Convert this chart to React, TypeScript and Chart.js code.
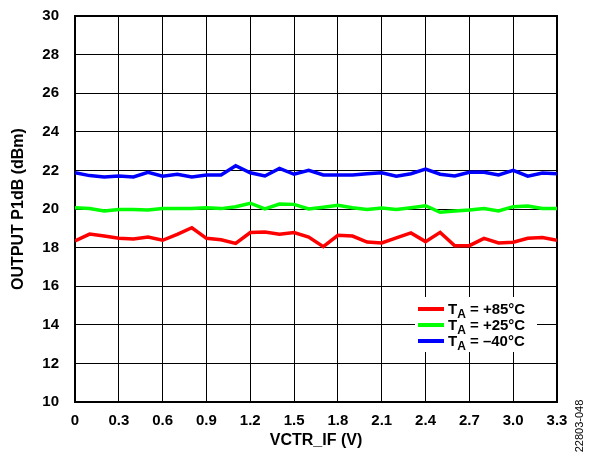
import { useEffect, useRef } from 'react';
import { Chart, registerables } from 'chart.js';

Chart.register(...registerables);

const vctrIf = [0, 0.1, 0.2, 0.3, 0.4, 0.5, 0.6, 0.7, 0.8, 0.9, 1.0, 1.1, 1.2, 1.3, 1.4, 1.5, 1.6, 1.7, 1.8, 1.9, 2.0, 2.1, 2.2, 2.3, 2.4, 2.5, 2.6, 2.7, 2.8, 2.9, 3.0, 3.1, 3.2, 3.3];
const p1dbPlus85 = [18.34, 18.70, 18.60, 18.48, 18.45, 18.55, 18.38, 18.69, 19.03, 18.48, 18.41, 18.22, 18.78, 18.81, 18.69, 18.78, 18.55, 18.05, 18.64, 18.60, 18.29, 18.24, 18.50, 18.76, 18.31, 18.79, 18.10, 18.10, 18.48, 18.24, 18.28, 18.48, 18.52, 18.38];
const p1dbPlus25 = [20.07, 20.03, 19.90, 19.97, 19.98, 19.95, 20.03, 20.03, 20.02, 20.07, 20.02, 20.12, 20.30, 20.00, 20.26, 20.24, 20.00, 20.09, 20.19, 20.07, 19.98, 20.05, 19.98, 20.07, 20.17, 19.83, 19.90, 19.95, 20.03, 19.90, 20.12, 20.15, 20.03, 20.03];
const p1dbMinus40 = [21.88, 21.73, 21.66, 21.71, 21.66, 21.90, 21.70, 21.80, 21.66, 21.76, 21.76, 22.24, 21.88, 21.71, 22.10, 21.80, 22.00, 21.76, 21.76, 21.76, 21.83, 21.88, 21.70, 21.83, 22.07, 21.80, 21.71, 21.90, 21.90, 21.76, 22.00, 21.70, 21.86, 21.83];

const seriesTemps = ['+85°C', '+25°C', '\u201340°C'];
const seriesColors = ['#ff0000', '#00ff00', '#0000ff'];
const xTitle = 'VCTR_IF (V)';
const yTitle = 'OUTPUT P1dB (dBm)';
const figureId = '22803-048';

const FONT = '"Liberation Sans", Arial, Helvetica, sans-serif';

const overlayPlugin = {
  id: 'overlay',
  beforeDatasetsDraw(chart: any) {
    const { ctx, chartArea } = chart;
    ctx.save();
    ctx.strokeStyle = '#000';
    ctx.lineWidth = 2;
    ctx.strokeRect(chartArea.left, chartArea.top, chartArea.right - chartArea.left, chartArea.bottom - chartArea.top);
    ctx.restore();
  },
  afterDatasetsDraw(chart: any) {
    const { ctx, chartArea } = chart;
    ctx.save();
    const bx = chartArea.right - 142;
    const by = chartArea.bottom - 105;
    ctx.fillStyle = '#fff';
    ctx.fillRect(bx, by, 122, 55);
    const rowY = [by + 12, by + 28, by + 44];
    seriesTemps.forEach((t, i) => {
      const y = rowY[i];
      ctx.strokeStyle = seriesColors[i];
      ctx.lineWidth = 4;
      ctx.beginPath();
      ctx.moveTo(bx + 3, y);
      ctx.lineTo(bx + 29, y);
      ctx.stroke();
      ctx.fillStyle = '#000';
      ctx.textBaseline = 'alphabetic';
      ctx.textAlign = 'left';
      let x = bx + 33;
      ctx.font = `bold 15px ${FONT}`;
      ctx.fillText('T', x, y + 5);
      x += ctx.measureText('T').width;
      ctx.font = `bold 12px ${FONT}`;
      ctx.fillText('A', x, y + 9);
      x += ctx.measureText('A').width;
      ctx.font = `bold 15px ${FONT}`;
      ctx.fillText(' = ' + t, x, y + 5);
    });
    ctx.restore();
  },
  afterDraw(chart: any) {
    const { ctx } = chart;
    ctx.save();
    ctx.translate(chart.width - 9, chart.height - 29);
    ctx.rotate(-Math.PI / 2);
    ctx.font = `11px ${FONT}`;
    ctx.fillStyle = '#000';
    ctx.textAlign = 'center';
    ctx.textBaseline = 'middle';
    ctx.fillText(figureId, 0, 0);
    ctx.restore();
  },
};

export default function App() {
  const ref = useRef<HTMLCanvasElement>(null);
  useEffect(() => {
    if (!ref.current) return;
    const mk = (vals: number[]) => vctrIf.map((x, i) => ({ x, y: vals[i] }));
    const chart = new Chart(ref.current, {
      type: 'line',
      data: {
        datasets: [p1dbPlus85, p1dbPlus25, p1dbMinus40].map((vals, i) => ({
          label: 'TA = ' + seriesTemps[i],
          data: mk(vals),
          borderColor: seriesColors[i],
          backgroundColor: seriesColors[i],
          borderWidth: 3.5,
          pointRadius: 0,
          tension: 0,
          fill: false,
        })),
      },
      options: {
        responsive: false,
        animation: false,
        devicePixelRatio: 1,
        layout: { padding: { top: 16, right: 32, left: 0, bottom: 0 } },
        plugins: { legend: { display: false }, tooltip: { enabled: false } },
        scales: {
          x: {
            type: 'linear',
            min: 0,
            max: 3.3,
            ticks: {
              stepSize: 0.3,
              padding: 10,
              color: '#000',
              font: { family: FONT, size: 15, weight: 'bold' },
              maxRotation: 0,
              autoSkip: false,
              callback: (v: any) => (Number(v) === 0 ? '0' : Number(v).toFixed(1)),
            },
            grid: { color: '#000', lineWidth: 1, drawTicks: false },
            border: { display: true, color: '#000', width: 2 },
            title: {
              display: true,
              text: xTitle,
              color: '#000',
              font: { family: FONT, size: 16, weight: 'bold' },
              padding: { top: 0, bottom: 5 },
            },
            afterFit: (s: any) => { s.height = 53; },
          },
          y: {
            type: 'linear',
            min: 10,
            max: 30,
            ticks: {
              stepSize: 2,
              padding: 3,
              color: '#000',
              font: { family: FONT, size: 15, weight: 'bold' },
            },
            grid: { color: '#000', lineWidth: 1, drawTicks: true, tickLength: 13, tickColor: 'rgba(0,0,0,0)' },
            border: { display: true, color: '#000', width: 2 },
            title: {
              display: true,
              text: yTitle,
              color: '#000',
              font: { family: FONT, size: 16, weight: 'bold' },
              padding: { top: 8.5, bottom: 0 },
            },
            afterFit: (s: any) => { s.width = 75; },
          },
        },
      },
      plugins: [overlayPlugin],
    });
    return () => chart.destroy();
  }, []);
  return (
    <div style={{ position: 'fixed', left: 0, top: 0, width: 589, height: 455, background: '#fff' }}>
      <canvas ref={ref} width={589} height={455} style={{ display: 'block' }} />
    </div>
  );
}
